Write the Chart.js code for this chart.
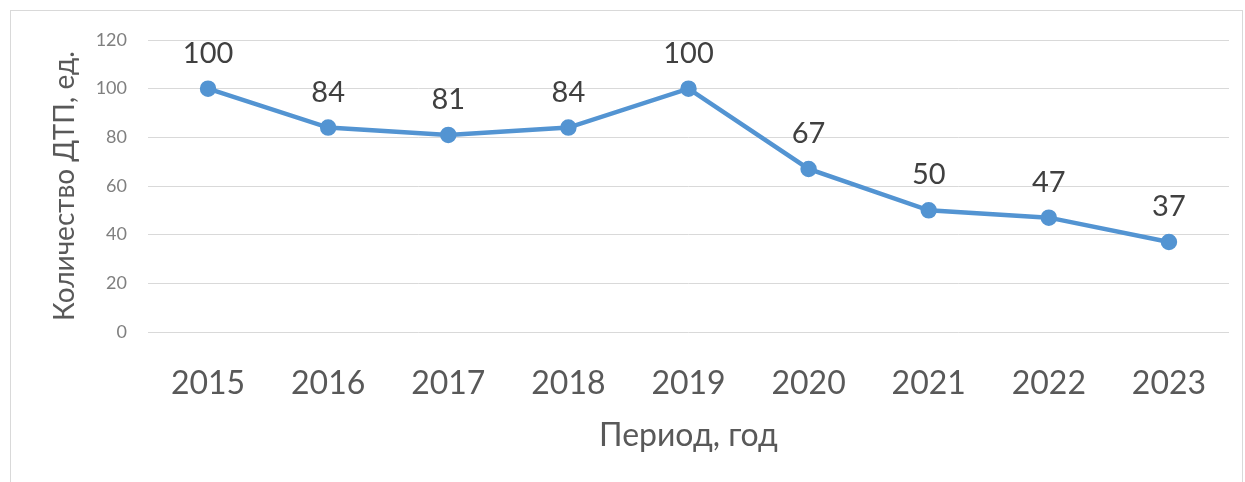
<!DOCTYPE html>
<html lang="ru">
<head>
<meta charset="utf-8">
<title>Количество ДТП по годам</title>
<script src="https://cdn.jsdelivr.net/npm/chart.js@4/dist/chart.umd.min.js"></script>
<style>
  html, body { margin: 0; padding: 0; background: #ffffff; }
  #wrap { position: relative; width: 1245px; height: 482px; }
</style>
</head>
<body>
<div id="wrap"><canvas id="chart" width="1245" height="482"></canvas></div>
<script>
// Годы наблюдения
const years = ['2015', '2016', '2017', '2018', '2019', '2020', '2021', '2022', '2023'];
// Количество ДТП, ед.
const accidents = [100, 84, 81, 84, 100, 67, 50, 47, 37];
// Деления оси значений
const yTicks = [0, 20, 40, 60, 80, 100, 120];

const FONT = 'Lato, "Open Sans", "DejaVu Sans", sans-serif';
const BLUE = '#5394d2';

// Рамка области диаграммы
const frame = {
  id: 'frame',
  beforeDraw(chart) {
    const ctx = chart.ctx;
    ctx.save();
    ctx.fillStyle = '#ffffff';
    ctx.fillRect(0, 0, chart.width, chart.height);
    ctx.strokeStyle = '#d9d9d9';
    ctx.lineWidth = 1;
    ctx.strokeRect(10.5, 10.5, 1232, 520);
    ctx.restore();
  }
};

// Подписи значений над точками
const valueLabels = {
  id: 'valueLabels',
  afterDatasetsDraw(chart) {
    const ctx = chart.ctx;
    const meta = chart.getDatasetMeta(0);
    ctx.save();
    ctx.font = '29px ' + FONT;
    ctx.fillStyle = '#404040';
    ctx.textAlign = 'center';
    ctx.textBaseline = 'alphabetic';
    meta.data.forEach((pt, i) => {
      ctx.fillText(String(chart.data.datasets[0].data[i]), pt.x, pt.y - 26);
    });
    ctx.restore();
  }
};

new Chart(document.getElementById('chart'), {
  type: 'line',
  data: {
    labels: years,
    datasets: [{
      data: accidents,
      borderColor: BLUE,
      backgroundColor: BLUE,
      borderWidth: 4.5,
      pointRadius: 6,
      pointBackgroundColor: BLUE,
      pointBorderColor: BLUE,
      tension: 0,
      fill: false
    }]
  },
  options: {
    responsive: false,
    animation: false,
    events: [],
    layout: { padding: { top: 40, right: 16, bottom: 0, left: 0 } },
    plugins: {
      legend: { display: false },
      tooltip: { enabled: false },
      title: { display: false }
    },
    scales: {
      x: {
        offset: true,
        grid: { display: false, drawTicks: false },
        border: { display: false },
        ticks: {
          color: '#595959',
          font: { family: FONT, size: 32 },
          padding: 32,
          maxRotation: 0,
          autoSkip: false
        },
        title: {
          display: true,
          text: 'Период, год',
          color: '#595959',
          font: { family: FONT, size: 32 },
          padding: { top: 0, bottom: 27 }
        },
        afterFit(scale) { scale.height = 150; }
      },
      y: {
        min: 0,
        max: 120,
        afterBuildTicks(scale) { scale.ticks = yTicks.map(v => ({ value: v })); },
        grid: { color: '#d9d9d9', lineWidth: 1, drawTicks: false },
        border: { display: false },
        ticks: {
          color: '#7f7f7f',
          font: { family: FONT, size: 18 },
          padding: 21
        },
        title: {
          display: true,
          text: 'Количество ДТП, ед.',
          color: '#595959',
          font: { family: FONT, size: 28 },
          padding: { top: 48, bottom: 0 }
        },
        afterFit(scale) { scale.width = 148; }
      }
    }
  },
  plugins: [frame, valueLabels]
});
</script>
</body>
</html>
